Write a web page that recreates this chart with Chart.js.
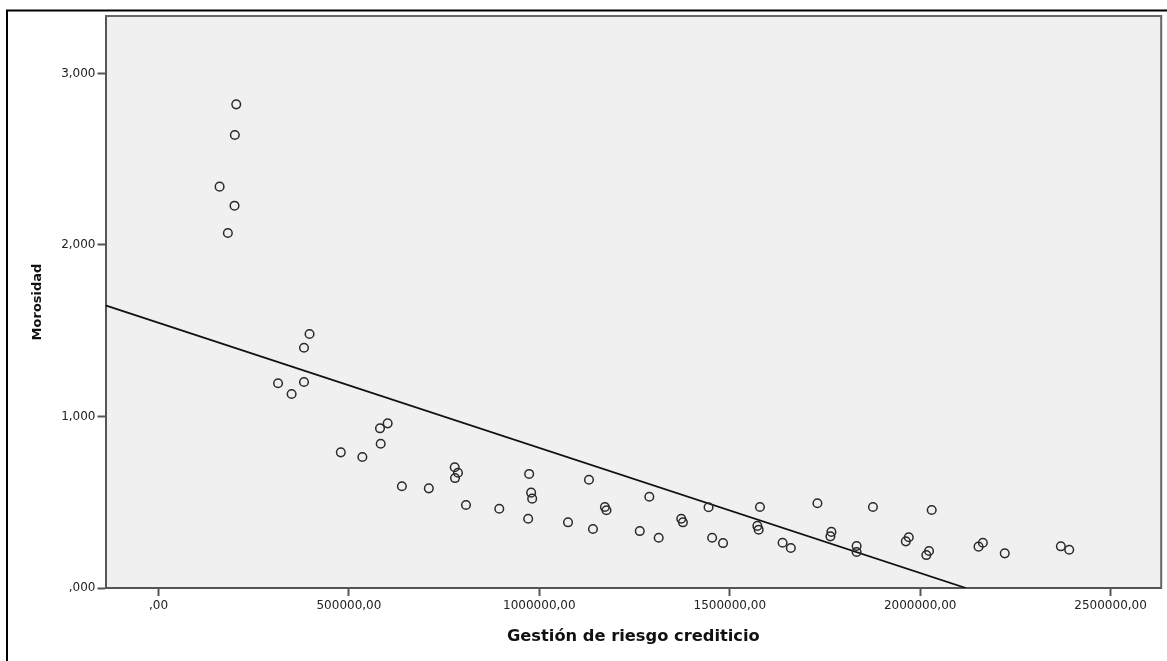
<!DOCTYPE html>
<html>
<head>
<meta charset="utf-8">
<script src="https://cdn.jsdelivr.net/npm/chart.js@4/dist/chart.umd.min.js"></script>
<style>
  html, body { margin: 0; padding: 0; background: #fff; overflow: hidden; }
  #wrap { position: relative; width: 1167px; height: 661px; }
  canvas { display: block; }
</style>
</head>
<body>
<div id="wrap"><canvas id="grafico" width="1167" height="661"></canvas></div>
<script>
  // Gestión de riesgo crediticio (x) vs Morosidad (y)
  const gestion = [
    204100, 200400, 160400, 199600, 182100,
    396600, 382000, 313900, 349500, 382000,
    601700, 581600, 583400, 478700, 535300,
    777800, 786400, 778600, 639100, 709800, 807400,
    894800, 973300, 978500, 981200, 970700, 1075300,
    1130300, 1172100, 1176300, 1140800, 1288800, 1263700, 1313400,
    1372600, 1377000, 1444300, 1453700, 1482400,
    1579300, 1572500, 1575900, 1638700, 1660400,
    1730200, 1766900, 1764300, 1833100, 1833100, 1876000,
    1970100, 1962300, 2030300, 2023300, 2016200,
    2153300, 2164600, 2222100, 2369400, 2391400
  ];
  const morosidad = [
    2.820, 2.641, 2.340, 2.229, 2.070,
    1.481, 1.401, 1.194, 1.131, 1.201,
    0.960, 0.931, 0.841, 0.791, 0.764,
    0.704, 0.672, 0.641, 0.593, 0.581, 0.484,
    0.462, 0.665, 0.556, 0.521, 0.404, 0.383,
    0.631, 0.472, 0.453, 0.344, 0.532, 0.332, 0.293,
    0.404, 0.383, 0.471, 0.293, 0.262,
    0.472, 0.362, 0.340, 0.264, 0.233,
    0.494, 0.327, 0.301, 0.245, 0.210, 0.472,
    0.296, 0.272, 0.455, 0.216, 0.192,
    0.241, 0.264, 0.202, 0.243, 0.223
  ];

  // recta de ajuste (extremos)
  const ajusteX = [-139200, 2120100];
  const ajusteY = [1.648, 0];

  const xTicks = [0, 500000, 1000000, 1500000, 2000000, 2500000];
  const xTickLabels = [',00', '500000,00', '1000000,00', '1500000,00', '2000000,00', '2500000,00'];
  const yTicks = [0, 1, 2, 3];
  const yTickLabels = [',000', '1,000', '2,000', '3,000'];

  const marco = {
    id: 'marco',
    beforeDraw(chart) {
      const c = chart.ctx;
      const a = chart.chartArea;
      c.save();
      c.fillStyle = '#f0f0f0';
      c.fillRect(a.left, a.top, a.right - a.left, a.bottom - a.top);
      c.strokeStyle = '#000';
      c.lineWidth = 2;
      c.beginPath();
      c.moveTo(7, chart.height);
      c.lineTo(7, 10.5);
      c.lineTo(chart.width, 10.5);
      c.stroke();
      c.restore();
    },
    afterDatasetsDraw(chart) {
      const c = chart.ctx;
      const a = chart.chartArea;
      c.save();
      c.strokeStyle = '#666';
      c.lineWidth = 2;
      c.beginPath();
      c.moveTo(a.left, a.top);
      c.lineTo(a.right, a.top);
      c.lineTo(a.right, a.bottom);
      c.stroke();
      c.restore();
    }
  };

  const ctx = document.getElementById('grafico').getContext('2d');
  const grafico = new Chart(ctx, {
    type: 'scatter',
    data: {
      datasets: [{
        data: gestion.map((g, i) => ({ x: g, y: morosidad[i] })),
        pointRadius: 4.3,
        pointHoverRadius: 4.3,
        pointBorderWidth: 1.5,
        pointBorderColor: '#2a2a2a',
        pointBackgroundColor: 'rgba(0,0,0,0)'
      }, {
        data: ajusteX.map((x, i) => ({ x: x, y: ajusteY[i] })),
        showLine: true,
        borderColor: '#111',
        borderWidth: 1.8,
        pointRadius: 0
      }]
    },
    options: {
      responsive: false,
      animation: false,
      events: [],
      layout: { padding: { top: 16, right: 1.5, left: 0, bottom: 0 } },
      plugins: { legend: { display: false }, tooltip: { enabled: false } },
      scales: {
        x: {
          type: 'linear',
          min: -139200,
          max: 2632900,
          afterBuildTicks: s => { s.ticks = xTicks.map(v => ({ value: v })); },
          afterFit: s => { s.height = 73; s.paddingLeft = 0; s.paddingRight = 0; },
          ticks: {
            callback: (v, i) => xTickLabels[i],
            color: '#222',
            font: { family: 'DejaVu Sans', size: 12 },
            padding: 3,
            maxRotation: 0
          },
          grid: { drawOnChartArea: false, tickLength: 8, tickWidth: 2, tickColor: '#555' },
          border: { color: '#555', width: 2 },
          title: {
            display: true,
            text: 'Gestión de riesgo crediticio',
            color: '#111',
            font: { family: 'DejaVu Sans', size: 16.3, weight: 'bold' },
            padding: { top: 0, bottom: 14 }
          }
        },
        y: {
          type: 'linear',
          min: 0,
          max: 3.335,
          afterBuildTicks: s => { s.ticks = yTicks.map(v => ({ value: v })); },
          afterFit: s => { s.width = 105.5; s.paddingTop = 0; s.paddingBottom = 0; },
          ticks: {
            callback: (v, i) => yTickLabels[i],
            color: '#222',
            font: { family: 'DejaVu Sans', size: 12 },
            padding: 2
          },
          grid: { drawOnChartArea: false, tickLength: 8, tickWidth: 2, tickColor: '#555' },
          border: { color: '#555', width: 2 },
          title: {
            display: true,
            text: 'Morosidad',
            color: '#111',
            font: { family: 'DejaVu Sans', size: 13, weight: 'bold' },
            padding: { top: 30, bottom: 0 }
          }
        }
      }
    },
    plugins: [marco]
  });
</script>
</body>
</html>
